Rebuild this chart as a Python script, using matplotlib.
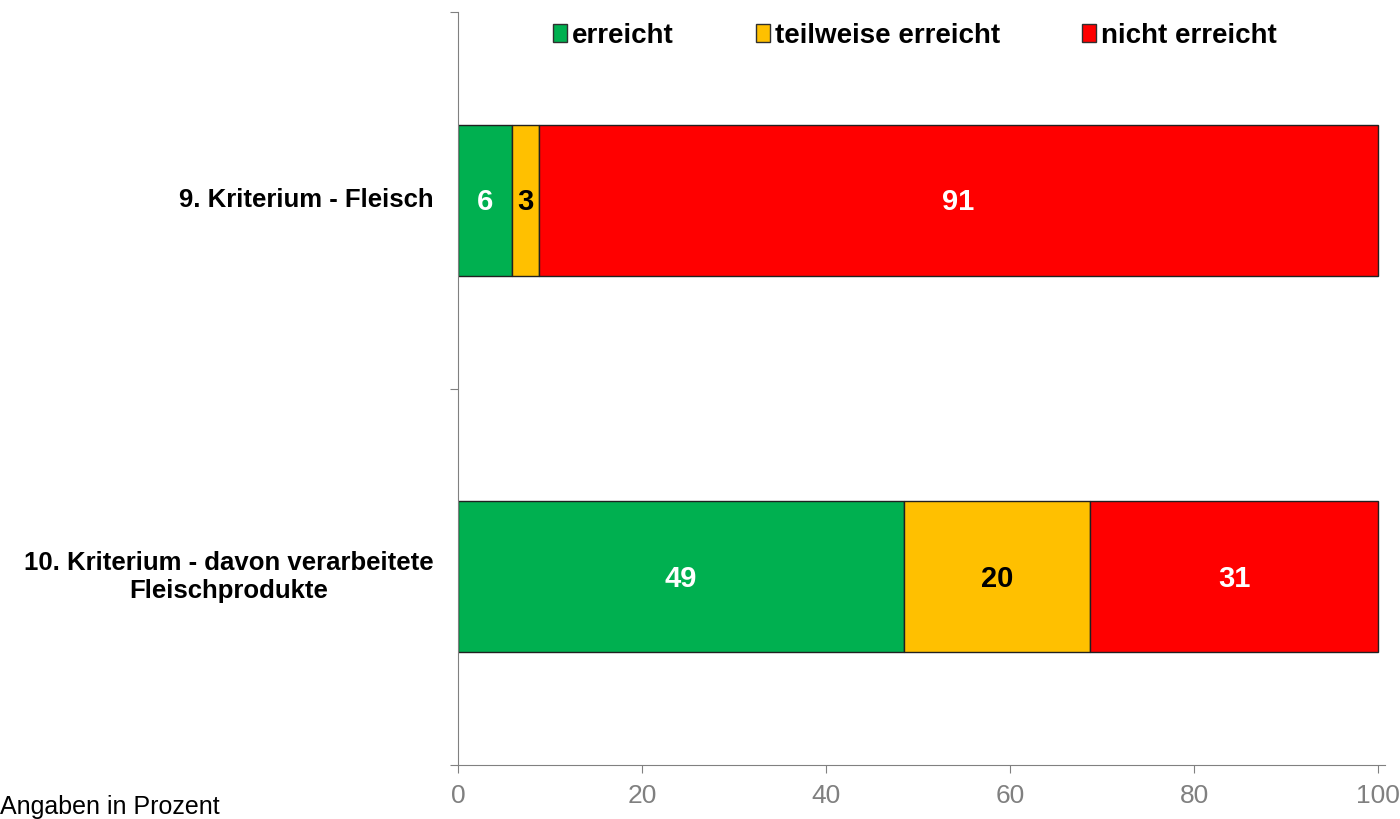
import matplotlib.pyplot as plt
from matplotlib.patches import Patch

plt.rcParams['font.family'] = ['Liberation Sans', 'DejaVu Sans']

kriterien = ["9. Kriterium - Fleisch", "10. Kriterium - davon verarbeitete\nFleischprodukte"]
serien = ["erreicht", "teilweise erreicht", "nicht erreicht"]
erreicht = [5.9, 48.5]
teilweise = [2.9, 20.2]
nicht = [91.2, 31.3]
labels = [[6, 49], [3, 20], [91, 31]]
farben = ["#00B050", "#FFC000", "#FF0000"]
textfarben = ["white", "black", "white"]

fig = plt.figure(figsize=(14, 8.19), dpi=100)
ax = fig.add_axes([458/1400, 1-765/819, (1385-458)/1400, (765-12)/819])

y = [1.5, 0.5]
links = [0, 0]
for werte, farbe, tf, lab in zip([erreicht, teilweise, nicht], farben, textfarben, labels):
    ax.barh(y, werte, left=links, height=0.4, color=farbe, edgecolor="#202020", linewidth=1)
    for yi, w, l, t in zip(y, werte, links, lab):
        ax.text(l + w/2, yi - 0.005, str(t), ha="center", va="center", color=tf,
                fontsize=21, fontweight="bold")
    links = [a + b for a, b in zip(links, werte)]

ax.set_xlim(0, 100.76)
ax.set_ylim(0, 2)
ax.set_xticks([0, 20, 40, 60, 80, 100])
ax.set_yticks([0, 1, 2])
ax.set_yticklabels([])
ax.tick_params(axis="x", colors="#808080", labelsize=19, length=6, pad=8)
ax.tick_params(axis="y", colors="#808080", length=6)
for s in ["top", "right"]:
    ax.spines[s].set_visible(False)
for s in ["left", "bottom"]:
    ax.spines[s].set_color("#808080")

for yi, k in zip(y, kriterien):
    ax.text(-0.026, yi / 2, k, transform=ax.transAxes, ha="right", va="center",
            multialignment="center", fontsize=18.5, fontweight="bold", linespacing=1.2)

handles = [Patch(facecolor=f, edgecolor="#303030", label=s) for f, s in zip(farben, serien)]
fig.legend(handles=handles, loc="center", bbox_to_anchor=(915/1400, 1-36/819), ncol=3,
           frameon=False, handlelength=0.5, handleheight=0.6, handletextpad=0.18,
           columnspacing=2.95, borderpad=0, prop={"size": 20, "weight": "bold"})

fig.text(0.0, 0.006, "Angaben in Prozent", ha="left", va="baseline", fontsize=18)

fig.savefig("out.png", dpi=100)
